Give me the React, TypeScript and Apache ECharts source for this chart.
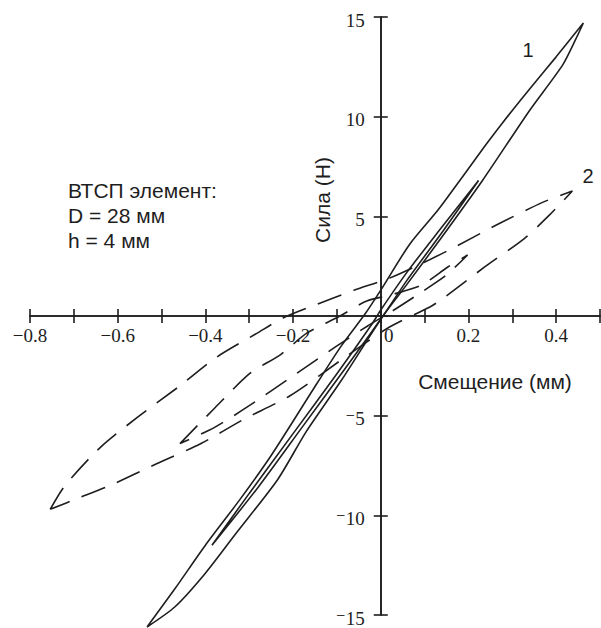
import React, { useEffect, useRef } from 'react';
import * as echarts from 'echarts';

// Axis ranges / ticks
const X_MIN = -0.8;
const X_MAX = 0.5;
const X_STEP = 0.1;
const Y_MIN = -15;
const Y_MAX = 15;
const Y_STEP = 5;

// Curve 1 (solid): outer loop
const loop1OuterUp: number[][] = [
  [-0.533, -15.6], [-0.47, -13.7], [-0.4, -11.5], [-0.321, -9.2], [-0.25, -7.0],
  [-0.146, -3.4], [-0.09, -1.5], [-0.036, 0.1], [0.0, 1.3], [0.066, 3.6],
  [0.13, 5.3], [0.187, 7.0], [0.24, 8.6], [0.278, 9.7], [0.34, 11.4],
  [0.4, 13.0], [0.462, 14.7],
];
const loop1OuterDown: number[][] = [
  [0.462, 14.7], [0.445, 13.9], [0.415, 12.6], [0.339, 10.3], [0.232, 6.8],
  [0.134, 3.8], [0.06, 1.6], [0.005, 0.0], [-0.089, -3.2], [-0.17, -5.8],
  [-0.235, -8.2], [-0.33, -10.9], [-0.4, -12.9], [-0.47, -14.6], [-0.533, -15.6],
];
// Curve 1 (solid): inner loop
const loop1InnerUp: number[][] = [
  [-0.385, -11.5], [-0.3, -8.9], [-0.2, -5.9], [-0.1, -2.9], [-0.02, -0.4],
  [0.0, 0.3], [0.06, 2.2], [0.13, 4.2], [0.223, 6.8],
];
const loop1InnerDown: number[][] = [
  [0.223, 6.8], [0.14, 4.2], [0.06, 1.8], [0.005, 0.0], [-0.08, -2.6],
  [-0.18, -5.6], [-0.28, -8.6], [-0.385, -11.5],
];

// Curve 2 (dashed): outer loop
const loop2OuterUp: number[][] = [
  [-0.754, -9.7], [-0.72, -8.5], [-0.64, -6.6], [-0.556, -5.1], [-0.458, -3.5],
  [-0.374, -2.06], [-0.282, -0.86], [-0.223, -0.1], [-0.15, 0.55], [-0.06, 1.3],
  [0.02, 1.9], [0.096, 2.66], [0.169, 3.46], [0.267, 4.6], [0.369, 5.7], [0.437, 6.27],
];
const loop2OuterDown: number[][] = [
  [0.437, 6.27], [0.385, 5.07], [0.328, 3.9], [0.237, 2.46], [0.146, 0.95],
  [0.112, 0.45], [0.02, -0.55], [-0.077, -2.0], [-0.207, -4.0], [-0.314, -5.2],
  [-0.41, -6.4], [-0.51, -7.4], [-0.617, -8.5], [-0.686, -9.1], [-0.754, -9.7],
];
// Curve 2 (dashed): inner loop
const loop2InnerUp: number[][] = [
  [-0.458, -6.4], [-0.378, -4.6], [-0.298, -2.87], [-0.23, -1.96], [-0.168, -0.85],
  [-0.093, 0.0], [-0.032, 0.75], [0.03, 1.1], [0.093, 1.55], [0.153, 2.46], [0.198, 3.06],
];
const loop2InnerDown: number[][] = [
  [0.198, 3.06], [0.15, 2.06], [0.093, 1.2], [0.03, 0.3], [-0.03, -0.5],
  [-0.1, -1.5], [-0.2, -3.0], [-0.3, -4.5], [-0.38, -5.6], [-0.458, -6.4],
];

const X_TITLE = 'Смещение (мм)';
const Y_TITLE = 'Сила (Н)';
const NOTE = 'ВТСП элемент:\nD = 28 мм\nh = 4 мм';
const CURVE_LABELS = ['1', '2'];

const INK = '#1e1e1e';
const SERIF = '"Liberation Serif", "DejaVu Serif", serif';
const SANS = '"Liberation Sans", Arial, sans-serif';

const W = 601;
const H = 628;
const GRID = { left: 30, right: 1, top: 17, bottom: 13 };

function xLabel(v: number): string {
  const r = Math.round(v * 10);
  if (r % 2 !== 0) return '';
  if (r === 0) return '{z|0}';
  return (r < 0 ? '\u2212' : '') + Math.abs(r / 10).toFixed(1);
}
function yLabel(v: number): string {
  if (v === 0) return '';
  return v < 0 ? '\u207B' + Math.abs(v) : String(v);
}

export default function App() {
  const ref = useRef<HTMLDivElement>(null);
  useEffect(() => {
    if (!ref.current) return;
    const chart = echarts.init(ref.current, null, { renderer: 'svg' });
    const gw = W - GRID.left - GRID.right;
    const gh = H - GRID.top - GRID.bottom;
    // Move the axes from the grid edges to the zero crossing of the other axis
    const xAxisOffset = -gh * (0 - Y_MIN) / (Y_MAX - Y_MIN);
    const yAxisOffset = -gw * (0 - X_MIN) / (X_MAX - X_MIN);
    const axisLine = { onZero: false, lineStyle: { color: INK, width: 1.6 } };
    const tickStyle = { color: INK, width: 1.6 };
    const xBase = {
      type: 'value', min: X_MIN, max: X_MAX, interval: X_STEP, position: 'bottom',
      offset: xAxisOffset, splitLine: { show: false }, axisLine,
    };
    const yBase = {
      type: 'value', min: Y_MIN, max: Y_MAX, interval: Y_STEP, position: 'left',
      offset: yAxisOffset, splitLine: { show: false }, axisLine,
    };
    const solid = { color: INK, width: 1.6, type: 'solid' };
    const dashed = { color: INK, width: 1.6, type: [25, 13] };
    const mk = (name: string, data: number[][], ls: any) => ({
      name, type: 'line', data, showSymbol: false, symbol: 'none', smooth: 0.25,
      clip: false, lineStyle: ls, silent: true,
    });
    chart.setOption({
      animation: false,
      backgroundColor: '#ffffff',
      grid: { ...GRID, containLabel: false, outerBoundsMode: 'none' },
      xAxis: [
        {
          ...xBase,
          axisTick: { show: true, inside: false, length: 7, lineStyle: tickStyle },
          axisLabel: {
            formatter: xLabel, fontFamily: SERIF, fontSize: 19, color: INK, margin: 10,
            rich: { z: { fontFamily: SERIF, fontSize: 19, color: INK, padding: [0, 0, 0, 16] } },
          },
        },
        {
          ...xBase,
          axisTick: { show: true, inside: true, length: 7, lineStyle: tickStyle },
          axisLabel: { show: false },
        },
      ],
      yAxis: [
        {
          ...yBase,
          axisTick: { show: true, inside: false, length: 7, lineStyle: tickStyle },
          axisLabel: {
            formatter: yLabel, fontFamily: SERIF, fontSize: 19, color: INK, margin: 16,
            verticalAlign: 'top', lineHeight: 6,
          },
        },
        {
          ...yBase,
          axisTick: { show: true, inside: true, length: 7, lineStyle: tickStyle },
          axisLabel: { show: false },
        },
      ],
      series: [
        mk('1 outer', [...loop1OuterUp, ...loop1OuterDown.slice(1)], solid),
        mk('1 inner', [...loop1InnerUp, ...loop1InnerDown.slice(1)], solid),
        mk('2 outer', [...loop2OuterUp, ...loop2OuterDown.slice(1)], dashed),
        mk('2 inner', [...loop2InnerUp, ...loop2InnerDown.slice(1)], dashed),
      ],
      graphic: [
        {
          type: 'text', left: 68, top: 178,
          style: { text: NOTE, fontFamily: SANS, fontSize: 21, lineHeight: 25, fill: INK },
        },
        {
          type: 'text', x: 495, y: 381,
          style: { text: X_TITLE, fontFamily: SANS, fontSize: 21, fill: INK, align: 'center', verticalAlign: 'middle' },
        },
        {
          type: 'text', x: 322, y: 200, rotation: Math.PI / 2,
          style: { text: Y_TITLE, fontFamily: SANS, fontSize: 21, fill: INK, align: 'center', verticalAlign: 'middle' },
        },
        {
          type: 'text', x: 528, y: 50,
          style: { text: CURVE_LABELS[0], fontFamily: SANS, fontSize: 20, fill: INK, align: 'center', verticalAlign: 'middle' },
        },
        {
          type: 'text', x: 588, y: 176,
          style: { text: CURVE_LABELS[1], fontFamily: SANS, fontSize: 20, fill: INK, align: 'center', verticalAlign: 'middle' },
        },
      ],
    });
    return () => chart.dispose();
  }, []);
  return (
    <div
      ref={ref}
      style={{ position: 'absolute', left: 0, top: 0, width: W, height: H, background: '#fff' }}
    />
  );
}
